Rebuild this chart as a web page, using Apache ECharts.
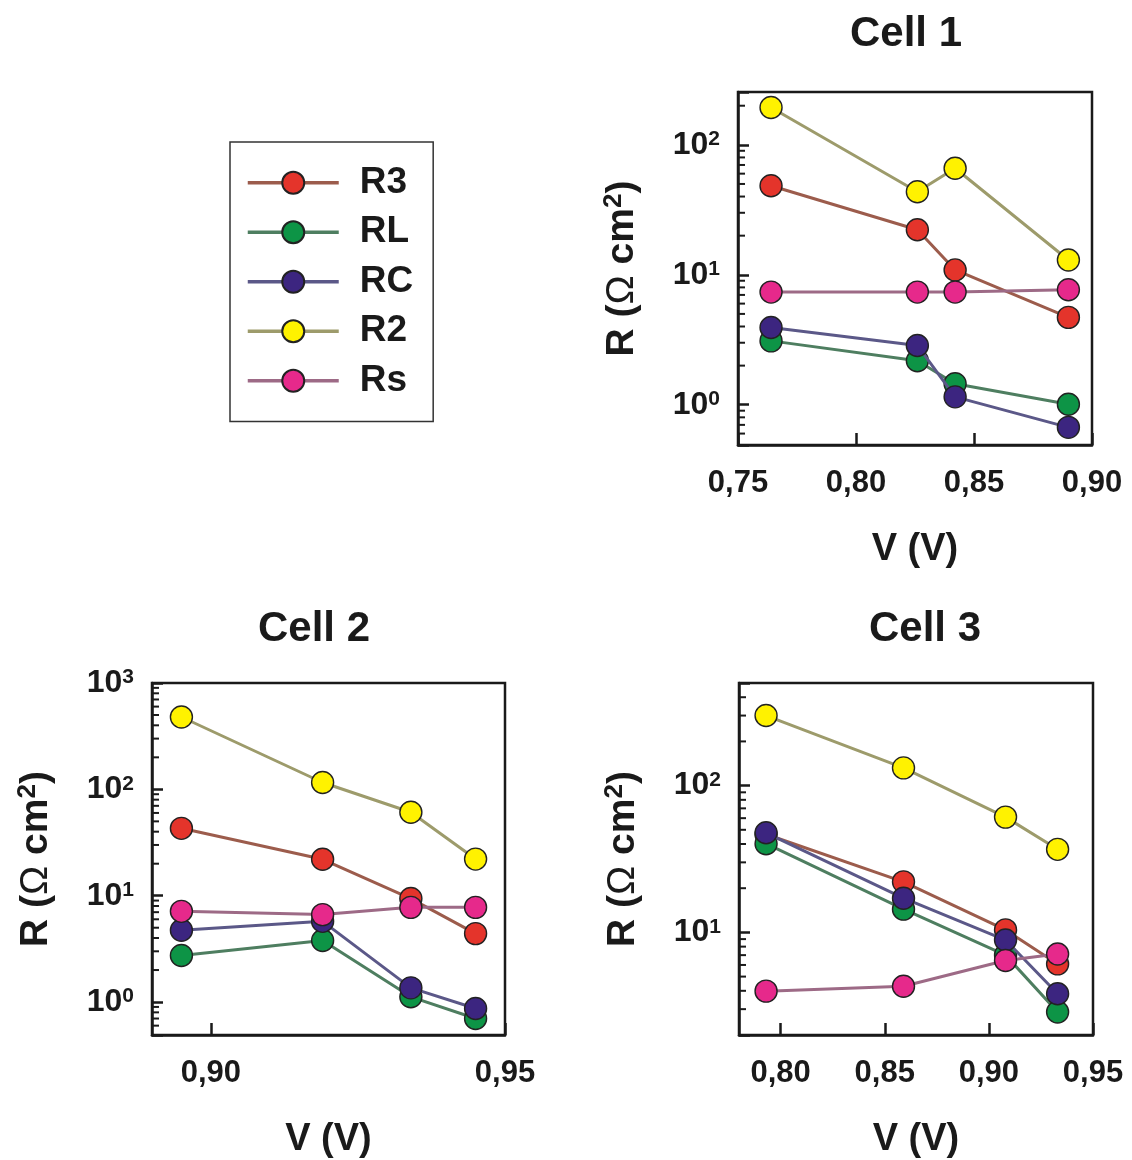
<!DOCTYPE html>
<html>
<head>
<meta charset="utf-8">
<script src="https://cdn.jsdelivr.net/npm/echarts@6/dist/echarts.min.js"></script>
<style>
  html, body { margin: 0; padding: 0; background: #fff; }
  #chart { width: 1132px; height: 1160px; }
</style>
</head>
<body>
<div id="chart"></div>
<script>
// Series names (legend order)
const seriesNames = ['R3', 'RL', 'RC', 'R2', 'Rs']

// Cell 1
const cell1V = [0.764, 0.826, 0.842, 0.890]
const cell1R3 = [48.4, 22.2, 10.9, 4.7]
const cell1RL = [3.1, 2.18, 1.45, 1.01]
const cell1RC = [3.93, 2.86, 1.15, 0.67]
const cell1R2 = [194, 43.6, 66, 13.0]
const cell1Rs = [7.36, 7.36, 7.36, 7.67]

// Cell 2
const cell2V = [0.895, 0.919, 0.934, 0.945]
const cell2R3 = [43, 22, 9.4, 4.4]
const cell2RL = [2.74, 3.79, 1.12, 0.70]
const cell2RC = [4.73, 5.74, 1.36, 0.87]
const cell2R2 = [479, 116, 60.9, 22.1]
const cell2Rs = [7.13, 6.64, 7.77, 7.77]

// Cell 3
const cell3V = [0.793, 0.859, 0.908, 0.933]
const cell3R3 = [46.6, 22.1, 10.4, 6.1]
const cell3RL = [40.2, 14.4, 7.0, 2.87]
const cell3RC = [47.7, 17.1, 8.87, 3.82]
const cell3R2 = [300, 132, 61, 36.8]
const cell3Rs = [3.98, 4.3, 6.43, 7.13]

// Tick labels of the V axes
const cell1Ticks = [0.75, 0.80, 0.85, 0.90]
const cell2Ticks = [0.90, 0.95]
const cell3Ticks = [0.80, 0.85, 0.90, 0.95]

// Minor ticks of the log axes
const cell1Minor = [0.6, 0.7, 0.8, 0.9, 2, 3, 4, 5, 6, 7, 8, 9, 20, 30, 40, 50, 60, 70, 80, 90, 200]
const cell2Minor = [0.6, 0.7, 0.8, 0.9, 2, 3, 4, 5, 6, 7, 8, 9, 20, 30, 40, 50, 60, 70, 80, 90,
  200, 300, 400, 500, 600, 700, 800, 900]
const cell3Minor = [3, 4, 5, 6, 7, 8, 9, 20, 30, 40, 50, 60, 70, 80, 90, 200, 300, 400]

const markerColors = ['#e4342b', '#0d9446', '#3c2580', '#fff200', '#e6298b']
const lineColors = ['#9c5c4c', '#4e7e60', '#5b5888', '#9d9b6b', '#9d6a86']

const FONT = 'Liberation Sans, Arial, sans-serif'
const INK = '#1a1a1a'

const cells = [
  { v: cell1V, vals: [cell1R3, cell1RL, cell1RC, cell1R2, cell1Rs], ticks: cell1Ticks, minor: cell1Minor,
    xMin: 0.75, xMax: 0.90, yMin: 0.49, yMax: 255,
    grid: { left: 738, top: 92, width: 354, height: 353 } },
  { v: cell2V, vals: [cell2R3, cell2RL, cell2RC, cell2R2, cell2Rs], ticks: cell2Ticks, minor: cell2Minor,
    xMin: 0.89, xMax: 0.95, yMin: 0.49, yMax: 1000,
    grid: { left: 152, top: 683, width: 353, height: 353 } },
  { v: cell3V, vals: [cell3R3, cell3RL, cell3RC, cell3R2, cell3Rs], ticks: cell3Ticks, minor: cell3Minor,
    xMin: 0.78, xMax: 0.95, yMin: 2, yMax: 500,
    grid: { left: 739, top: 683, width: 354, height: 353 } }
]

const grids = []
const xAxes = []
const yAxes = []
const series = []

cells.forEach((c, gi) => {
  grids.push(Object.assign({ show: true, borderColor: INK, borderWidth: 2.5, backgroundColor: 'transparent' }, c.grid))

  xAxes.push({
    type: 'value',
    gridIndex: gi,
    min: c.xMin,
    max: c.xMax,
    name: 'V (V)',
    nameLocation: 'middle',
    nameGap: 86,
    nameTextStyle: { fontSize: 38, fontWeight: 'bold', color: INK, fontFamily: FONT },
    axisLine: { show: true, lineStyle: { color: INK, width: 2.5 } },
    axisTick: { show: true, inside: true, length: 12, lineStyle: { color: INK, width: 2.5 }, customValues: c.ticks },
    axisLabel: {
      customValues: c.ticks,
      margin: 23,
      fontSize: 31,
      fontWeight: 'bold',
      color: INK,
      fontFamily: FONT,
      formatter: v => v.toFixed(2).replace('.', ',')
    },
    splitLine: { show: false }
  })

  yAxes.push({
    type: 'log',
    logBase: 10,
    gridIndex: gi,
    min: c.yMin,
    max: c.yMax,
    name: 'R ({o|Ω} cm{s|2})',
    nameLocation: 'middle',
    nameGap: 95,
    nameTextStyle: {
      fontSize: 39, fontWeight: 'bold', color: INK, fontFamily: FONT, lineHeight: 42,
      rich: {
        o: { fontSize: 39, fontWeight: 'normal', color: INK, fontFamily: FONT, lineHeight: 42 },
        s: { fontSize: 26, fontWeight: 'bold', color: INK, fontFamily: FONT, verticalAlign: 'top', lineHeight: 24 }
      }
    },
    axisLine: { show: true, lineStyle: { color: INK, width: 2.5 } },
    axisTick: { show: true, inside: true, length: 11, lineStyle: { color: INK, width: 2.5 } },
    axisLabel: {
      margin: 18,
      color: INK,
      fontFamily: FONT,
      formatter: v => {
        const e = Math.log10(v)
        const n = Math.round(e)
        return Math.abs(e - n) < 1e-6 ? '{b|10}{s|' + n + '}' : ''
      },
      rich: {
        b: { fontSize: 32, fontWeight: 'bold', color: INK, fontFamily: FONT, lineHeight: 32 },
        s: { fontSize: 21, fontWeight: 'bold', color: INK, fontFamily: FONT, verticalAlign: 'top', lineHeight: 20 }
      }
    },
    splitLine: { show: false },
    minorTick: { show: false }
  })

  // minor ticks of the log axis, placed through the axis scale
  series.push({
    type: 'custom',
    name: 'minor' + gi,
    xAxisIndex: gi,
    yAxisIndex: gi,
    silent: true,
    clip: false,
    z: 1,
    data: c.minor.map(m => [c.xMin, m]),
    encode: { x: 0, y: 1 },
    renderItem: (params, api) => {
      const y = api.coord([api.value(0), api.value(1)])[1]
      const x0 = params.coordSys.x
      return {
        type: 'line',
        shape: { x1: x0, y1: y, x2: x0 + 7, y2: y },
        style: { stroke: INK, lineWidth: 2 }
      }
    }
  })

  seriesNames.forEach((name, si) => {
    series.push({
      type: 'line',
      name: name,
      xAxisIndex: gi,
      yAxisIndex: gi,
      data: c.v.map((x, i) => [x, c.vals[si][i]]),
      symbol: 'circle',
      symbolSize: 22,
      z: 3 + si,
      itemStyle: { color: markerColors[si], borderColor: '#222', borderWidth: 1.4, opacity: 1 },
      lineStyle: { color: lineColors[si], width: 3 },
      emphasis: { disabled: true },
      animation: false
    })
  })
})

const chart = echarts.init(document.getElementById('chart'), null, { renderer: 'canvas' })

chart.setOption({
  backgroundColor: '#ffffff',
  animation: false,
  textStyle: { fontFamily: FONT },
  title: [
    { text: 'Cell 1', left: 906, top: 13, padding: 0, textAlign: 'center',
      textStyle: { fontSize: 42, fontWeight: 'bold', color: INK, fontFamily: FONT } },
    { text: 'Cell 2', left: 314, top: 608, padding: 0, textAlign: 'center',
      textStyle: { fontSize: 42, fontWeight: 'bold', color: INK, fontFamily: FONT } },
    { text: 'Cell 3', left: 925, top: 608, padding: 0, textAlign: 'center',
      textStyle: { fontSize: 42, fontWeight: 'bold', color: INK, fontFamily: FONT } }
  ],
  legend: {
    data: seriesNames,
    orient: 'vertical',
    left: 230,
    top: 142,
    padding: [16, 20, 16, 16],
    itemWidth: 91,
    itemHeight: 27.5,
    itemGap: 0,
    borderColor: '#333',
    borderWidth: 1.5,
    selectedMode: false,
    lineStyle: { width: 3.5 },
    textStyle: { fontSize: 37, fontWeight: 'bold', color: INK, fontFamily: FONT, lineHeight: 49.5, padding: [0, 0, 0, 16] }
  },
  grid: grids,
  xAxis: xAxes,
  yAxis: yAxes,
  series: series
})
</script>
</body>
</html>
